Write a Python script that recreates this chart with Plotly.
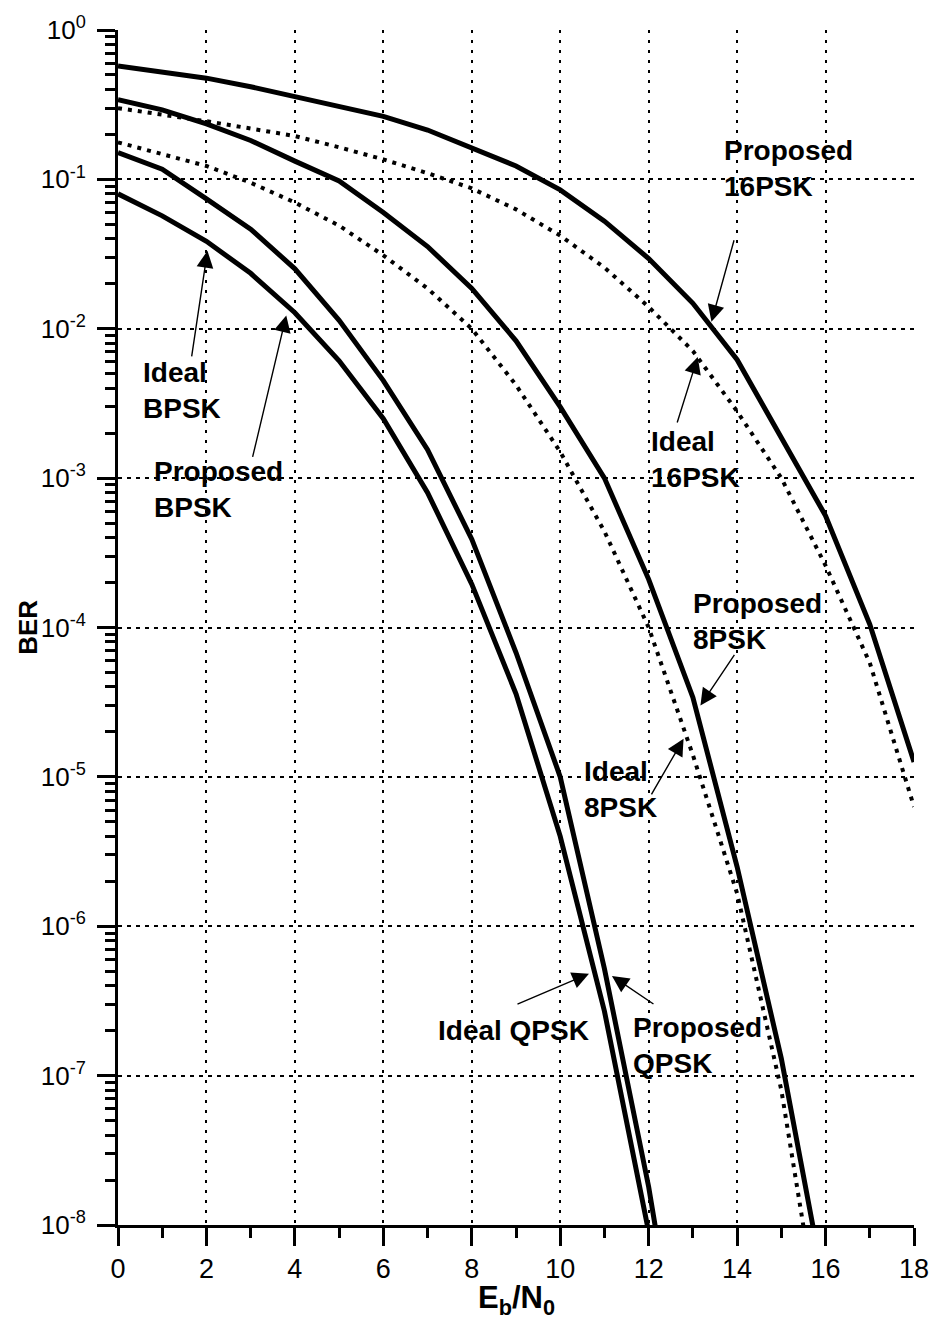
import plotly.graph_objects as go

# Eb/N0 grid (dB)
ebn0 = list(range(0, 19))

# BER values
ideal_bpsk = [0.080, 0.057, 0.0385, 0.0235, 0.0128, 0.0061, 0.0025, 8.0e-4, 1.95e-4,
              3.6e-5, 4.0e-6, 2.7e-7, 9.0e-9]
prop_bpsk = [0.151, 0.117, 0.074, 0.0464, 0.0252, 0.0114, 0.0045, 1.55e-3, 3.9e-4,
             6.8e-5, 1.0e-5, 5.2e-7, 1.8e-8, 3.0e-10]
ideal_8psk = [0.177, 0.147, 0.123, 0.095, 0.070, 0.049, 0.031, 0.0186, 0.010,
              4.2e-3, 1.5e-3, 4.4e-4, 1.0e-4, 1.4e-5, 1.66e-6, 8.0e-8, 1.2e-9]
prop_8psk = [0.341, 0.292, 0.235, 0.182, 0.1325, 0.0977, 0.060, 0.0355, 0.0186,
             8.3e-3, 3.0e-3, 1.0e-3, 2.1e-4, 3.4e-5, 2.5e-6, 1.3e-7, 3.5e-9]
ideal_16psk = [0.30, 0.272, 0.245, 0.219, 0.195, 0.164, 0.136, 0.110, 0.087, 0.063,
               0.042, 0.0257, 0.014, 7.1e-3, 2.8e-3, 1.0e-3, 2.6e-4, 5.8e-5, 6.3e-6]
prop_16psk = [0.575, 0.525, 0.476, 0.417, 0.36, 0.31, 0.264, 0.214, 0.162, 0.123,
              0.085, 0.0525, 0.0295, 0.0148, 6.2e-3, 1.9e-3, 5.6e-4, 1.05e-4, 1.26e-5]

x_ticks = list(range(0, 19, 2))
x_minor = list(range(1, 18, 2))
y_exps = list(range(0, -9, -1))
y_tickvals = [10.0 ** e for e in y_exps]
y_ticktext = ["10<sup>%d</sup>" % e for e in y_exps]
y_minor = [k * 10.0 ** e for e in range(-8, 0) for k in range(2, 10)]

FONT = "Liberation Sans, Arial, sans-serif"

series = [
    ("Ideal BPSK/QPSK", ideal_bpsk, "solid"),
    ("Proposed BPSK/QPSK", prop_bpsk, "solid"),
    ("Ideal 8PSK", ideal_8psk, "4px,6px"),
    ("Proposed 8PSK", prop_8psk, "solid"),
    ("Ideal 16PSK", ideal_16psk, "4px,6px"),
    ("Proposed 16PSK", prop_16psk, "solid"),
]

fig = go.Figure()
for name, vals, dash in series:
    fig.add_trace(go.Scatter(
        x=ebn0[:len(vals)], y=vals, mode="lines", name=name,
        line=dict(color="black", width=4 if dash != "solid" else 5, dash=dash),
        showlegend=False,
    ))

# text labels: (text, x, log10(y))
labels = [
    ("Proposed<br>16PSK", 13.65, -0.927),
    ("Ideal<br>16PSK", 12.0, -2.877),
    ("Proposed<br>8PSK", 12.95, -3.963),
    ("Ideal<br>8PSK", 10.49, -5.083),
    ("Ideal QPSK", 7.195, -6.70),
    ("Proposed<br>QPSK", 11.59, -6.80),
    ("Ideal<br>BPSK", 0.519, -2.416),
    ("Proposed<br>BPSK", 0.767, -3.077),
]
for txt, lx, ly in labels:
    fig.add_annotation(x=lx, y=ly, xref="x", yref="y", text="<b>%s</b>" % txt,
                       showarrow=False, xanchor="left", yanchor="middle", align="left",
                       font=dict(family=FONT, size=28, color="black"))

# arrows: tip (x, log10 y), tail offset in pixels
arrows = [
    (13.42, -1.953, 23, -83),
    (13.11, -2.189, -21, 67),
    (13.17, -4.522, 35, -52),
    (12.79, -4.745, -33, 57),
    (10.65, -6.318, -73, 31),
    (11.17, -6.333, 43, 29),
    (2.023, -1.478, -16, 107),
    (3.805, -1.911, -34, 143),
]
for tx, ty, ax, ay in arrows:
    fig.add_annotation(x=tx, y=ty, xref="x", yref="y", text="", showarrow=True,
                       ax=ax, ay=ay, arrowhead=2, arrowsize=2.4, arrowwidth=1.4,
                       arrowcolor="black", standoff=0)

fig.add_annotation(x=-0.114, y=0.5, xref="paper", yref="paper", text="<b>BER</b>",
                   textangle=-90, showarrow=False, xanchor="center", yanchor="middle",
                   font=dict(family=FONT, size=26, color="black"))
fig.add_annotation(x=0.5, y=(1325 - 1300 - 100) / 1200.0, xref="paper", yref="paper",
                   text="<b>E<sub>b</sub>/N<sub>0</sub></b>", showarrow=False,
                   xanchor="center", yanchor="middle",
                   font=dict(family=FONT, size=31, color="black"))

fig.update_layout(
    width=941, height=1325,
    margin=dict(l=118, r=25, t=25, b=100),
    paper_bgcolor="white", plot_bgcolor="white",
    font=dict(family=FONT, color="black"),
    xaxis=dict(
        range=[0, 18], tickvals=x_ticks, ticktext=[str(v) for v in x_ticks],
        ticks="outside", ticklen=18, tickwidth=3, tickcolor="black",
        showline=True, linewidth=3, linecolor="black",
        showgrid=True, gridcolor="black", gridwidth=1.5, griddash="3px,7px",
        zeroline=False, tickfont=dict(size=27, family=FONT),
        minor=dict(tickvals=x_minor, ticks="outside", ticklen=10, tickwidth=3,
                   tickcolor="black", showgrid=False),
    ),
    yaxis=dict(
        type="log", range=[-8, 0], tickvals=y_tickvals, ticktext=y_ticktext,
        ticks="outside", ticklen=18, tickwidth=3, tickcolor="black",
        showline=True, linewidth=3, linecolor="black",
        showgrid=True, gridcolor="black", gridwidth=1.5, griddash="4px,5px",
        zeroline=False, tickfont=dict(size=26, family=FONT), ticklabelstandoff=6,
        minor=dict(tickvals=y_minor, ticks="outside", ticklen=10, tickwidth=2.5,
                   tickcolor="black", showgrid=False),
    ),
)

fig.write_html("out.html")
